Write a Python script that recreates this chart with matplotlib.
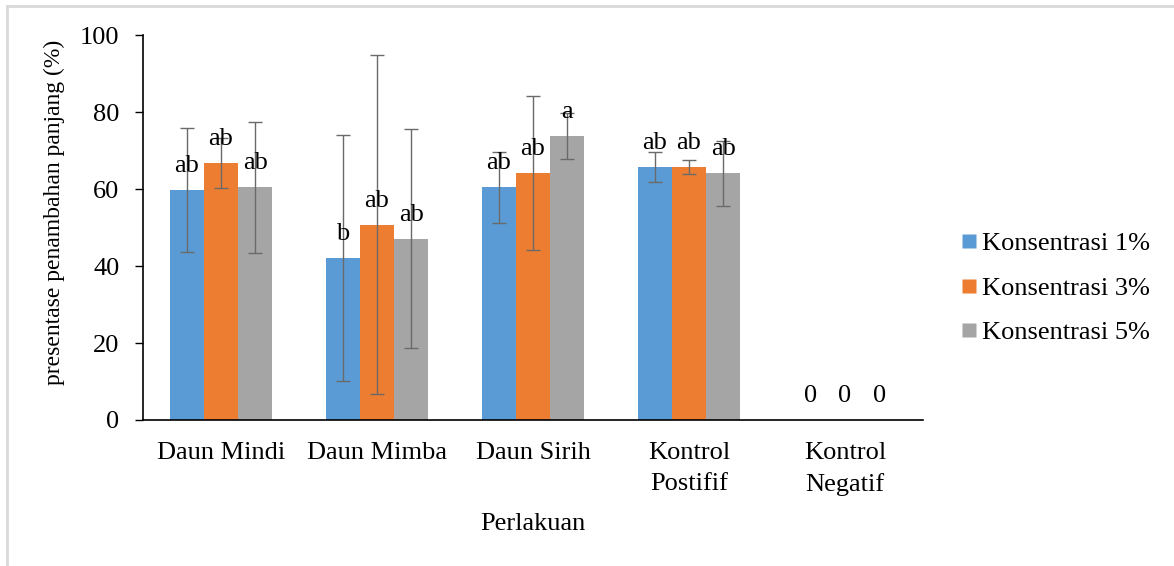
import matplotlib

matplotlib.use("Agg")
import matplotlib.pyplot as plt
from matplotlib.lines import Line2D
import numpy as np

plt.rcParams["font.family"] = ["Liberation Serif", "DejaVu Serif"]

categories = ["Daun Mindi", "Daun Mimba", "Daun Sirih", "Kontrol\nPostifif", "Kontrol\nNegatif"]
series_names = ["Konsentrasi 1%", "Konsentrasi 3%", "Konsentrasi 5%"]
colors = ["#5b9bd5", "#ed7d31", "#a5a5a5"]

k1 = [59.8, 42.1, 60.4, 65.8, 0]
k3 = [66.8, 50.7, 64.1, 65.8, 0]
k5 = [60.4, 47.1, 73.7, 64.1, 0]
err1 = [16.1, 32.0, 9.3, 3.9, 0]
err3 = [6.5, 44.0, 20.0, 1.8, 0]
err5 = [17.0, 28.5, 6.0, 8.4, 0]
notes1 = ["ab", "b", "ab", "ab", "0"]
notes3 = ["ab", "ab", "ab", "ab", "0"]
notes5 = ["ab", "ab", "a", "ab", "0"]

values = [k1, k3, k5]
errors = [err1, err3, err5]
notes = [notes1, notes3, notes5]

FS = 19

fig = plt.figure(figsize=(11.74, 5.66), dpi=100)
ax = fig.add_axes([143 / 1174, 1 - 420 / 566, 780 / 1174, 385 / 566])

x = np.arange(len(categories))
width = 0.22
handles = []
for i in range(3):
    pos = x + (i - 1) * width
    vals = np.array(values[i])
    errs = np.array(errors[i])
    ax.bar(pos, vals, width=width, color=colors[i], edgecolor="none")
    has_err = errs > 0
    ax.errorbar(pos[has_err], vals[has_err], yerr=errs[has_err], fmt="none",
                ecolor="#6a6a6a", elinewidth=1.0, capsize=4.7, capthick=1.0)
    for p, v, n in zip(pos, vals, notes[i]):
        ax.annotate(n, (p, v), xytext=(0, 13), textcoords="offset points",
                    ha="center", va="baseline", fontsize=FS)
    handles.append(Line2D([], [], marker="s", linestyle="none", markersize=9.5,
                          markerfacecolor=colors[i], markeredgecolor="none",
                          label=series_names[i]))

ax.set_xlim(-0.5, len(categories) - 0.5)
ax.set_ylim(0, 100)
ax.set_yticks(range(0, 101, 20))
ax.set_xticks(x)
ax.set_xticklabels(categories, fontsize=FS, linespacing=1.5)
ax.tick_params(axis="x", length=0, pad=16)
ax.tick_params(axis="y", length=6, width=1, direction="out", labelsize=FS, pad=11)
for side in ["top", "right"]:
    ax.spines[side].set_visible(False)
ax.spines["left"].set_linewidth(1.2)
ax.spines["bottom"].set_linewidth(1.2)
ax.set_xlabel("Perlakuan", fontsize=FS, labelpad=12)
ax.set_ylabel("presentase penambahan panjang (%)", fontsize=17)
ax.yaxis.set_label_coords(-0.10, 0.54)

fig.legend(handles=handles, loc="center left", bbox_to_anchor=(935 / 1174, 1 - 288 / 566),
           frameon=False, fontsize=FS, handletextpad=0.1, labelspacing=0.8,
           handlelength=0.8)

# light frame on the top and left edges
fig.add_artist(Line2D([7 / 1174, 7 / 1174], [0, 1 - 6 / 566], transform=fig.transFigure,
                      color="#d9d9d9", linewidth=2))
fig.add_artist(Line2D([7 / 1174, 1], [1 - 6 / 566, 1 - 6 / 566], transform=fig.transFigure,
                      color="#d9d9d9", linewidth=2))

fig.savefig("out.png")
